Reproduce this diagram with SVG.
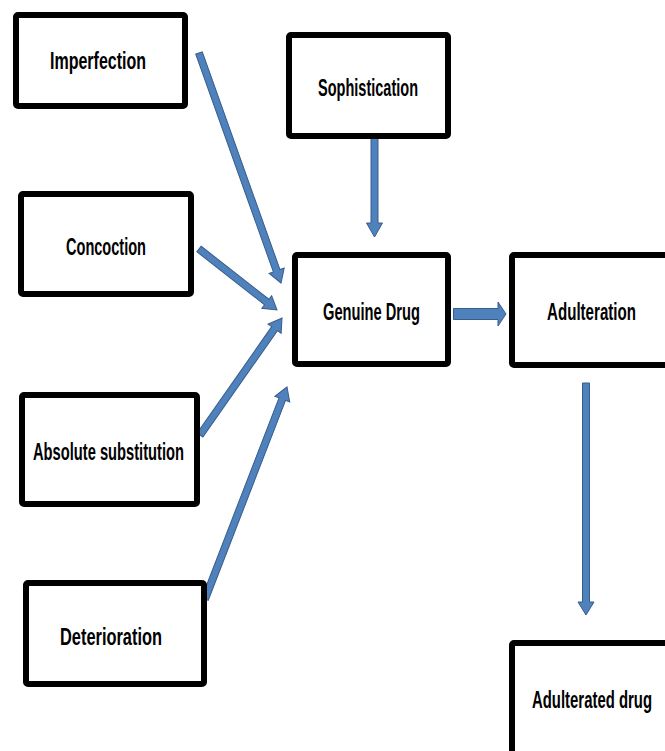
<svg xmlns="http://www.w3.org/2000/svg" width="665" height="751" viewBox="0 0 665 751">
<style>
.box{fill:#fff;stroke:#000;stroke-width:6;stroke-linejoin:round}
.lbl{font-family:"Liberation Sans",Arial,sans-serif;font-weight:bold;font-size:23px;fill:#000}
.arr{fill:#4F81BD;stroke:#385D8A;stroke-width:1;stroke-linejoin:miter}
</style>
<rect width="665" height="751" fill="#fff"/>
<g id="connectors">
<path class="arr" transform="translate(199,53) rotate(70.37)" d="M0,-3.5 H231.2 V-8 L244.2,0 L231.2,8 V3.5 H0 Z"/>
<path class="arr" transform="translate(199,249) rotate(38.03)" d="M0,-3.5 H86 V-8 L99,0 L86,8 V3.5 H0 Z"/>
<path class="arr" transform="translate(200,435) rotate(-54.97)" d="M0,-3.5 H129.9 V-8 L142.9,0 L129.9,8 V3.5 H0 Z"/>
<path class="arr" transform="translate(205,599) rotate(-68.86)" d="M0,-3.5 H214.3 V-8 L227.3,0 L214.3,8 V3.5 H0 Z"/>
<path class="arr" d="M371,136 V223 H366.5 L374.5,237 L382.5,223 H378 V136 Z"/>
<path class="arr" d="M453.5,308.5 H498 V302 L506,314 L498,326 V319.5 H453.5 Z"/>
<path class="arr" d="M582.5,383 V602 H578 L586,615 L594,602 H589.5 V383 Z"/>
</g>
<g id="imperfection">
<rect class="box" x="16" y="15" width="169" height="91" rx="2"/>
<text class="lbl" x="50" y="69" textLength="96" lengthAdjust="spacingAndGlyphs">Imperfection</text>
</g>
<g id="sophistication">
<rect class="box" x="289" y="35" width="159" height="101" rx="2"/>
<text class="lbl" x="318" y="96" textLength="100" lengthAdjust="spacingAndGlyphs">Sophistication</text>
</g>
<g id="concoction">
<rect class="box" x="21" y="194" width="170" height="100" rx="2"/>
<text class="lbl" x="66" y="255" textLength="80" lengthAdjust="spacingAndGlyphs">Concoction</text>
</g>
<g id="genuine-drug">
<rect class="box" x="295" y="255" width="153" height="109" rx="2"/>
<text class="lbl" x="323" y="320" textLength="97" lengthAdjust="spacingAndGlyphs">Genuine Drug</text>
</g>
<g id="adulteration">
<rect class="box" x="512" y="255" width="170" height="110" rx="2"/>
<text class="lbl" x="547" y="320" textLength="89" lengthAdjust="spacingAndGlyphs">Adulteration</text>
</g>
<g id="absolute-substitution">
<rect class="box" x="22" y="395" width="175" height="109" rx="2"/>
<text class="lbl" x="33" y="460" textLength="151" lengthAdjust="spacingAndGlyphs">Absolute substitution</text>
</g>
<g id="deterioration">
<rect class="box" x="26" y="583" width="178" height="101" rx="2"/>
<text class="lbl" x="60" y="645" textLength="102" lengthAdjust="spacingAndGlyphs">Deterioration</text>
</g>
<g id="adulterated-drug">
<rect class="box" x="512" y="643" width="170" height="130" rx="2"/>
<text class="lbl" x="532" y="708" textLength="120" lengthAdjust="spacingAndGlyphs">Adulterated drug</text>
</g>
</svg>
